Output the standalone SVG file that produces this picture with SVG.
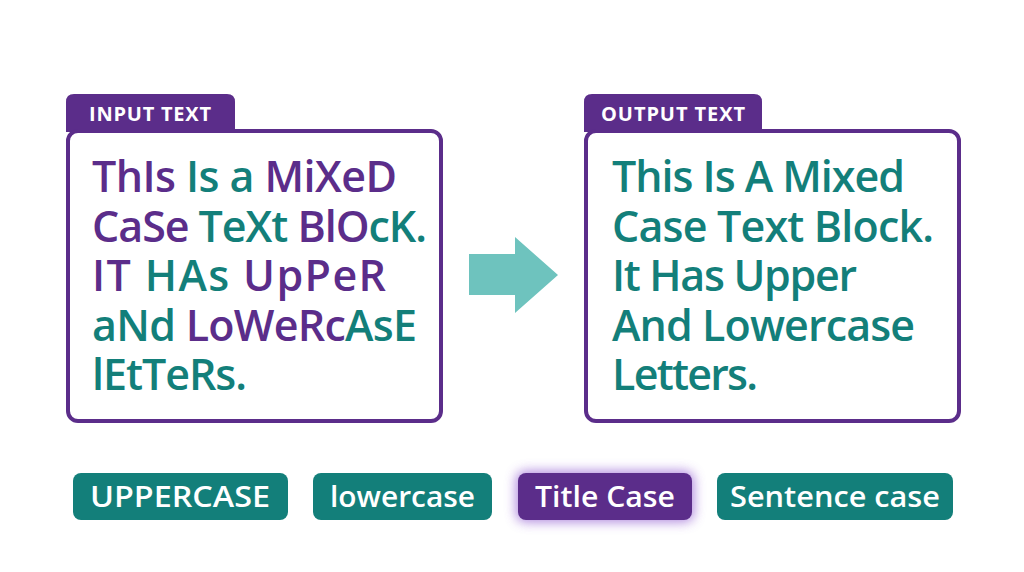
<svg xmlns="http://www.w3.org/2000/svg" width="1024" height="572" viewBox="0 0 1024 572">
<defs>
<style>
.box{fill:#fff;stroke:#5B2D8A;stroke-width:4}
.tab{fill:#5B2D8A}
.tabt{font-family:"Open Sans","DejaVu Sans",sans-serif;font-weight:700;font-size:20px;fill:#fff}
.body{font-family:"Open Sans","DejaVu Sans",sans-serif;font-weight:600;font-size:43px}
.p{fill:#5B2D8A}
.t{fill:#137F7A}
.btn{fill:#137F7A}
.btnp{fill:#5B2D8A}
.bt{font-family:"Open Sans","DejaVu Sans",sans-serif;font-weight:600;font-size:29px;fill:#fff}
</style>
<filter id="glow2" x="-30%" y="-60%" width="160%" height="220%">
<feGaussianBlur in="SourceGraphic" stdDeviation="6"/>
</filter>
</defs>
<g id="input">
<path class="tab" d="M66,132 L66,102 Q66,94 74,94 L227,94 Q235,94 235,102 L235,132 Z"/>
<rect class="box" x="68" y="131" width="373" height="290" rx="10"/>
<text class="tabt" x="89" y="121" textLength="122" lengthAdjust="spacing">INPUT TEXT</text>
<text class="body" x="92" y="192" textLength="305" lengthAdjust="spacing"><tspan class="p">ThIs </tspan><tspan class="t">Is a </tspan><tspan class="p">MiXeD</tspan></text>
<text class="body" x="92" y="242" textLength="335" lengthAdjust="spacing"><tspan class="p">CaSe </tspan><tspan class="t">TeXt </tspan><tspan class="p">BlO</tspan><tspan class="t">cK.</tspan></text>
<text class="body" x="92" y="291" textLength="294" lengthAdjust="spacing"><tspan class="p">IT </tspan><tspan class="t">HAs </tspan><tspan class="p">UpPeR</tspan></text>
<text class="body" x="92" y="341" textLength="325" lengthAdjust="spacing"><tspan class="t">aNd </tspan><tspan class="p">LoWeRc</tspan><tspan class="t">AsE</tspan></text>
<text class="body t" x="92" y="390" textLength="155" lengthAdjust="spacing">lEtTeRs.</text>
</g>
<g id="connectors">
<polygon points="469,254 515,254 515,237 558,275 515,313 515,295 469,295" fill="#6EC3BE"/>
</g>
<g id="output">
<path class="tab" d="M584,132 L584,102 Q584,94 592,94 L754,94 Q762,94 762,102 L762,132 Z"/>
<rect class="box" x="586" y="131" width="373" height="290" rx="10"/>
<text class="tabt" x="601" y="121" textLength="144" lengthAdjust="spacing">OUTPUT TEXT</text>
<text class="body t" x="612" y="192" textLength="293" lengthAdjust="spacing">This Is A Mixed</text>
<text class="body t" x="612" y="242" textLength="322" lengthAdjust="spacing">Case Text Block.</text>
<text class="body t" x="612" y="291" textLength="245" lengthAdjust="spacing">It Has Upper</text>
<text class="body t" x="612" y="341" textLength="303" lengthAdjust="spacing">And Lowercase</text>
<text class="body t" x="612" y="390" textLength="146" lengthAdjust="spacing">Letters.</text>
</g>
<g id="btn-upper">
<rect class="btn" x="73" y="473" width="215" height="47" rx="8"/>
<text class="bt" x="90" y="507" textLength="180" lengthAdjust="spacingAndGlyphs">UPPERCASE</text>
</g>
<g id="btn-lower">
<rect class="btn" x="313" y="473" width="179" height="47" rx="8"/>
<text class="bt" x="330" y="507" textLength="145" lengthAdjust="spacingAndGlyphs">lowercase</text>
</g>
<g id="btn-title">
<rect x="516" y="471" width="178" height="51" rx="9" fill="#9B6BD6" opacity="0.8" filter="url(#glow2)"/>
<rect class="btnp" x="518" y="473" width="174" height="47" rx="8"/>
<text class="bt" x="535" y="507" textLength="140" lengthAdjust="spacingAndGlyphs">Title Case</text>
</g>
<g id="btn-sentence">
<rect class="btn" x="717" y="473" width="236" height="47" rx="8"/>
<text class="bt" x="730" y="507" textLength="210" lengthAdjust="spacingAndGlyphs">Sentence case</text>
</g>
</svg>
